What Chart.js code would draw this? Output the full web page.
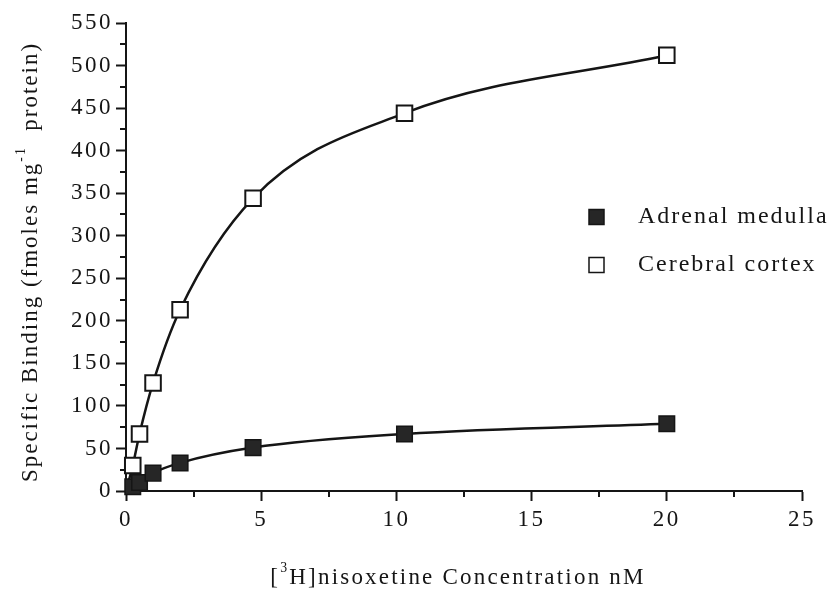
<!DOCTYPE html>
<html>
<head>
<meta charset="utf-8">
<script src="https://cdn.jsdelivr.net/npm/chart.js@4.4.1/dist/chart.umd.min.js"></script>
<style>
  html, body { margin: 0; padding: 0; background: #fff; }
  #wrap { width: 836px; height: 599px; }
</style>
</head>
<body>
<div id="wrap"><canvas id="chart" width="836" height="599"></canvas></div>
<script>
// [3H]nisoxetine concentration (nM); first entry is the curve origin
const concentrations = [0, 0.25, 0.5, 1, 2, 4.7, 10.3, 20];
// specific binding, fmoles per mg protein
const adrenalMedulla = [0, 5, 10, 21, 33, 51, 67, 79];
const cerebralCortex = [0, 30, 67, 127, 213, 344, 444, 512];

const seriesNames = ["Adrenal medulla", "Cerebral cortex"];
const xTicks = [0, 5, 10, 15, 20, 25];
const yTicks = [0, 50, 100, 150, 200, 250, 300, 350, 400, 450, 500, 550];

const INK = "#151515";
const FONT = "'Liberation Serif', 'DejaVu Serif', serif";

const toPoints = (ys) => concentrations.map((c, i) => ({ x: c, y: ys[i] }));

// writes text made of normal and superscript pieces, centred on (x, y)
function richText(ctx, parts, x, y, size, spacing) {
    ctx.letterSpacing = spacing + "px";
    const widths = parts.map(p => {
        ctx.font = (p.sup ? size * 0.6 : size) + "px " + FONT;
        return ctx.measureText(p.text).width;
    });
    let cx = x - widths.reduce((a, b) => a + b, 0) / 2;
    parts.forEach((p, i) => {
        ctx.font = (p.sup ? size * 0.6 : size) + "px " + FONT;
        ctx.fillText(p.text, cx, p.sup ? y - size * 0.42 : y);
        cx += widths[i];
    });
}

const decorations = {
    id: "decorations",
    beforeDraw(chart) {
        // wide-set digits on the axes
        chart.ctx.letterSpacing = "2.5px";
    },
    afterDraw(chart) {
        const { ctx, scales: { x, y }, chartArea } = chart;
        ctx.save();
        ctx.strokeStyle = INK;
        ctx.lineWidth = 2;

        // minor ticks halfway between the labelled ones
        ctx.beginPath();
        for (let v = 2.5; v < 25; v += 5) {
            const px = Math.round(x.getPixelForValue(v));
            ctx.moveTo(px, chartArea.bottom);
            ctx.lineTo(px, chartArea.bottom + 6);
        }
        for (let v = 25; v < 550; v += 50) {
            const py = Math.round(y.getPixelForValue(v));
            ctx.moveTo(chartArea.left, py);
            ctx.lineTo(chartArea.left - 6, py);
        }
        ctx.stroke();

        // axis titles
        ctx.fillStyle = INK;
        ctx.textBaseline = "middle";
        ctx.textAlign = "left";
        richText(ctx, [
            { text: "[" }, { text: "3", sup: true },
            { text: "H]nisoxetine Concentration nM" }
        ], 458, 578, 23, 2.2);

        ctx.save();
        ctx.translate(31, 262);
        ctx.rotate(-Math.PI / 2);
        richText(ctx, [
            { text: "Specific Binding (fmoles mg" }, { text: "-1", sup: true },
            { text: "  protein)" }
        ], 0, 0, 23, 2);
        ctx.restore();

        // legend inside the plot
        const rows = [
            { ds: chart.data.datasets[0], y: 217 },
            { ds: chart.data.datasets[1], y: 265 }
        ];
        rows.forEach(r => {
            const s = 15;
            ctx.lineWidth = 1.5;
            ctx.fillStyle = r.ds.pointBackgroundColor;
            ctx.fillRect(589, r.y - s / 2, s, s);
            ctx.strokeStyle = INK;
            ctx.strokeRect(589, r.y - s / 2, s, s);
            ctx.fillStyle = INK;
            ctx.font = "24px " + FONT;
            ctx.letterSpacing = "2px";
            ctx.fillText(r.ds.label, 638, r.y);
        });
        ctx.restore();
    }
};

const axisStyle = {
    border: { display: true, color: INK, width: 2 },
    grid: {
        drawOnChartArea: false,
        drawTicks: true,
        tickLength: 10,
        tickWidth: 2,
        tickColor: INK
    }
};

new Chart(document.getElementById("chart"), {
    type: "scatter",
    data: {
        datasets: [
            {
                label: seriesNames[0],
                data: toPoints(adrenalMedulla),
                showLine: true,
                cubicInterpolationMode: "monotone",
                borderColor: INK,
                borderWidth: 2.5,
                pointStyle: "rect",
                pointRadius: (c) => (c.dataIndex === 0 ? 0 : 11),
                pointBackgroundColor: "#262626",
                pointBorderColor: INK,
                pointBorderWidth: 1.5,
                clip: false
            },
            {
                label: seriesNames[1],
                data: toPoints(cerebralCortex),
                showLine: true,
                cubicInterpolationMode: "monotone",
                borderColor: INK,
                borderWidth: 2.5,
                pointStyle: "rect",
                pointRadius: (c) => (c.dataIndex === 0 ? 0 : 11),
                pointBackgroundColor: "#ffffff",
                pointBorderColor: INK,
                pointBorderWidth: 2,
                clip: false
            }
        ]
    },
    options: {
        responsive: false,
        animation: false,
        layout: { padding: { top: 23, right: 34, left: 0, bottom: 0 } },
        plugins: {
            legend: { display: false },
            tooltip: { enabled: false }
        },
        scales: {
            x: {
                ...axisStyle,
                type: "linear",
                min: 0,
                max: 25,
                afterBuildTicks: (s) => { s.ticks = xTicks.map(v => ({ value: v })); },
                afterFit: (s) => { s.height = 108; },
                ticks: {
                    color: INK,
                    padding: 5,
                    font: { family: FONT, size: 23 }
                }
            },
            y: {
                ...axisStyle,
                type: "linear",
                min: 0,
                max: 550,
                afterBuildTicks: (s) => { s.ticks = yTicks.map(v => ({ value: v })); },
                afterFit: (s) => { s.width = 126; },
                ticks: {
                    color: INK,
                    padding: 3,
                    font: { family: FONT, size: 23 }
                }
            }
        }
    },
    plugins: [decorations]
});
</script>
</body>
</html>
